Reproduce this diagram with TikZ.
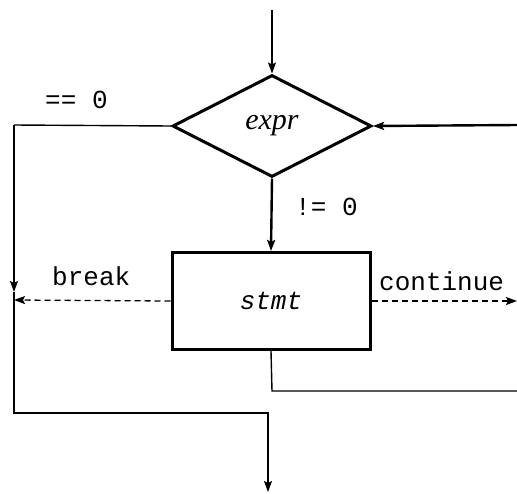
\documentclass[tikz,border=0pt]{standalone}
\usepackage{fontspec}
\setmainfont{Liberation Serif}
\setmonofont{Liberation Mono}
\usetikzlibrary{shapes.geometric,arrows.meta}
\begin{document}
\begin{tikzpicture}[x=1pt,y=-1pt,
  thinline/.style={line width=1.4pt},
  thickline/.style={line width=2.4pt},
  arr/.style={-{Stealth[length=11pt,width=8pt,inset=2pt]}},
  dashline/.style={line width=1.3pt,dash pattern=on 6pt off 4pt},
  lbl/.style={inner sep=0pt,font=\fontsize{26}{26}\selectfont\ttfamily},
  decision/.style={diamond,draw,line width=3pt,minimum width=199pt,minimum height=102pt,inner sep=0pt,font=\fontsize{30}{30}\selectfont\itshape},
  stmtbox/.style={rectangle,draw,line width=3pt,minimum width=198pt,minimum height=97pt,inner sep=0pt,font=\fontsize{26}{26}\selectfont\ttfamily\itshape}]
\useasboundingbox (0,0) rectangle (517,493);
\node[decision] (expr) at (272,126) {expr};
\node[stmtbox] (stmt) at (271,301) {stmt};
\coordinate (top) at (272,10);
\coordinate (rin) at (517,125);
\coordinate (lc) at (14,125);
\coordinate (la) at (14,292);
\coordinate (lb) at (14,413);
\coordinate (bc) at (268,413);
\coordinate (bend) at (268,492);
\coordinate (bk) at (14,300);
\coordinate (ct) at (517,301);
\coordinate (sb) at (272,391);
\coordinate (sr) at (517,391);
\draw[thinline,arr] (top) -- (expr.north);
\draw[thickline,arr] (rin) -- (expr.east);
\draw[thinline] (expr.west) -- (lc);
\draw[thinline,arr] (lc) -- (la);
\draw[thinline,arr] (la) -- (lb) -- (bc) -- (bend);
\draw[thickline,arr] (expr.south) -- (stmt.north);
\draw[dashline,arr] (stmt.west) -- (bk);
\draw[dashline,arr] (stmt.east) -- (ct);
\draw[thinline] (stmt.south) -- (sb) -- (sr);
\node[lbl,anchor=base west] (eq) at (45,108) {== 0};
\node[lbl,anchor=base west] (ne) at (295,215) {!= 0};
\node[lbl,anchor=base west] (brk) at (52,285) {break};
\node[lbl,anchor=base west] (cnt) at (379,290) {continue};
\end{tikzpicture}
\end{document}
